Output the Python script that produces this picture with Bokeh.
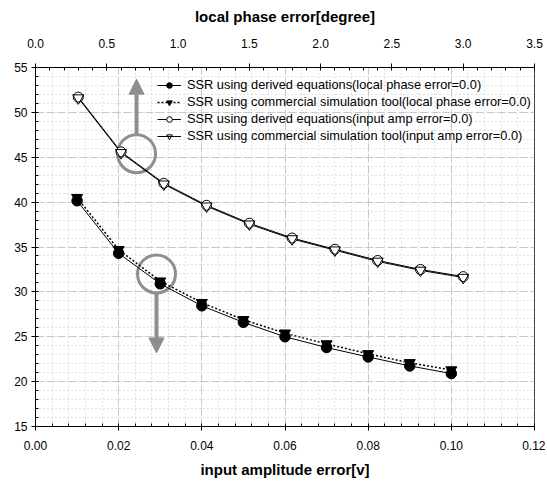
from bokeh.plotting import figure
from bokeh.models import (Range1d, LinearAxis, FixedTicker, NumeralTickFormatter,
                          Legend, LegendItem, Arrow, NormalHead)
from bokeh.embed import file_html
from bokeh.resources import INLINE

# ---- data ----
amp_error = [0.01, 0.02, 0.03, 0.04, 0.05, 0.06, 0.07, 0.08, 0.09, 0.10]
ssr_derived_amp = [40.15, 34.3, 30.9, 28.45, 26.6, 25.0, 23.8, 22.75, 21.75, 20.9]
ssr_sim_amp = [40.5, 34.7, 31.2, 28.8, 26.9, 25.4, 24.2, 23.1, 22.1, 21.3]

phase_error = [0.3, 0.6, 0.9, 1.2, 1.5, 1.8, 2.1, 2.4, 2.7, 3.0]
ssr_derived_phase = [51.7, 45.6, 42.1, 39.65, 37.65, 36.0, 34.75, 33.5, 32.5, 31.7]
ssr_sim_phase = [51.6, 45.5, 42.0, 39.55, 37.55, 35.9, 34.65, 33.4, 32.4, 31.6]

bottom_ticks = [0.0, 0.02, 0.04, 0.06, 0.08, 0.10, 0.12]
bottom_minor = [round(i * 0.004, 3) for i in range(31)]
top_ticks = [0.0, 0.5, 1.0, 1.5, 2.0, 2.5, 3.0, 3.5]
top_minor = [round(i * 0.1, 1) for i in range(36)]
y_ticks = [15, 20, 25, 30, 35, 40, 45, 50, 55]
y_minor = list(range(15, 56))

labels = [
    "SSR using derived equations(local phase error=0.0)",
    "SSR using commercial simulation tool(local phase error=0.0)",
    "SSR using derived equations(input amp error=0.0)",
    "SSR using commercial simulation tool(input amp error=0.0)",
]

# annotation circles (bottom-axis x, y) and arrows (x, y_start, y_end)
mark_x = [0.0243, 0.0291]
mark_y = [45.4, 32.0]
arrow_x = [0.0243, 0.0291]
arrow_y0 = [47.4, 30.0]
arrow_y1 = [53.7, 23.2]

FONT = "Liberation Sans"
GRAY = "#8e8e8e"

p = figure(width=545, height=484, output_backend="svg", toolbar_location=None,
           x_range=Range1d(0, 0.12), y_range=Range1d(15, 55),
           min_border_left=35, min_border_top=67, min_border_bottom=58,
           min_border_right=11)
p.extra_x_ranges = {"top": Range1d(0, 3.5)}
p.background_fill_color = "white"
p.border_fill_color = "white"
p.outline_line_color = "#444444"
p.outline_line_width = 1

bt = FixedTicker(ticks=bottom_ticks, minor_ticks=bottom_minor)
yt = FixedTicker(ticks=y_ticks, minor_ticks=y_minor)

def style_axis(ax):
    ax.axis_line_color = "black"
    ax.major_tick_line_color = "black"
    ax.minor_tick_line_color = "black"
    ax.major_tick_in = 0
    ax.major_tick_out = 4
    ax.minor_tick_in = 3
    ax.minor_tick_out = 0
    ax.major_label_text_font = FONT
    ax.major_label_text_font_size = "12px"
    ax.major_label_text_color = "black"
    ax.axis_label_text_font = FONT
    ax.axis_label_text_font_size = "15px"
    ax.axis_label_text_font_style = "bold"
    ax.axis_label_text_color = "black"

xa = p.xaxis[0]
xa.ticker = bt
xa.formatter = NumeralTickFormatter(format="0.00")
xa.axis_label = "input amplitude error[v]"
xa.major_label_standoff = 10
xa.axis_label_standoff = 8
style_axis(xa)

ya = p.yaxis[0]
ya.ticker = yt
ya.formatter = NumeralTickFormatter(format="0")
ya.major_label_standoff = 4
style_axis(ya)

top = LinearAxis(x_range_name="top", ticker=FixedTicker(ticks=top_ticks, minor_ticks=top_minor),
                 formatter=NumeralTickFormatter(format="0.0"),
                 axis_label="local phase error[degree]")
top.major_label_standoff = 16
top.axis_label_standoff = 11
style_axis(top)
p.add_layout(top, "above")

p.xgrid[0].ticker = bt
p.ygrid[0].ticker = yt
for g in (p.xgrid[0], p.ygrid[0]):
    g.grid_line_color = "#c8c8c8"
    g.grid_line_dash = "8 3"
    g.grid_line_width = 1
    g.minor_grid_line_color = "#c4c4c4"
    g.minor_grid_line_dash = "1 3"
    g.minor_grid_line_width = 1

# annotation circles and arrows (under data)
p.scatter(mark_x, mark_y, marker="circle", size=38, fill_color=None,
          line_color=GRAY, line_width=3)
for ax_, a0, a1 in zip(arrow_x, arrow_y0, arrow_y1):
    p.add_layout(Arrow(end=NormalHead(size=15, fill_color=GRAY, line_color=GRAY),
                       x_start=ax_, y_start=a0, x_end=ax_, y_end=a1,
                       line_color=GRAY, line_width=4))

# series
l1 = p.line(amp_error, ssr_derived_amp, line_color="black", line_width=1)
l2 = p.line(amp_error, ssr_sim_amp, line_color="black", line_width=1.5, line_dash="2 2")
s2 = p.scatter(amp_error, ssr_sim_amp, marker="inverted_triangle", size=11,
               fill_color="black", line_color="black")
s1 = p.scatter(amp_error, ssr_derived_amp, marker="circle", size=10.5,
               fill_color="black", line_color="black")

l3 = p.line(phase_error, ssr_derived_phase, x_range_name="top", line_color="black", line_width=1)
l4 = p.line(phase_error, ssr_sim_phase, x_range_name="top", line_color="black", line_width=1)
s3 = p.scatter(phase_error, ssr_derived_phase, x_range_name="top", marker="circle", size=10,
               fill_color="white", line_color="black")
s4 = p.scatter(phase_error, ssr_sim_phase, x_range_name="top", marker="inverted_triangle",
               size=11, fill_alpha=0, line_color="black")

legend = Legend(items=[
    LegendItem(label=labels[0], renderers=[l1, s1]),
    LegendItem(label=labels[1], renderers=[l2, s2]),
    LegendItem(label=labels[2], renderers=[l3, s3]),
    LegendItem(label=labels[3], renderers=[l4, s4]),
], location=(122, 283))
legend.label_text_font = FONT
legend.label_text_font_size = "12.8px"
legend.label_text_color = "black"
legend.glyph_width = 24
legend.glyph_height = 14
legend.label_height = 14
legend.spacing = 2
legend.padding = 0
legend.margin = 0
legend.label_standoff = 6
legend.border_line_color = None
legend.background_fill_alpha = 0
p.add_layout(legend, "center")

open("out.html", "w").write(file_html(p, INLINE))
